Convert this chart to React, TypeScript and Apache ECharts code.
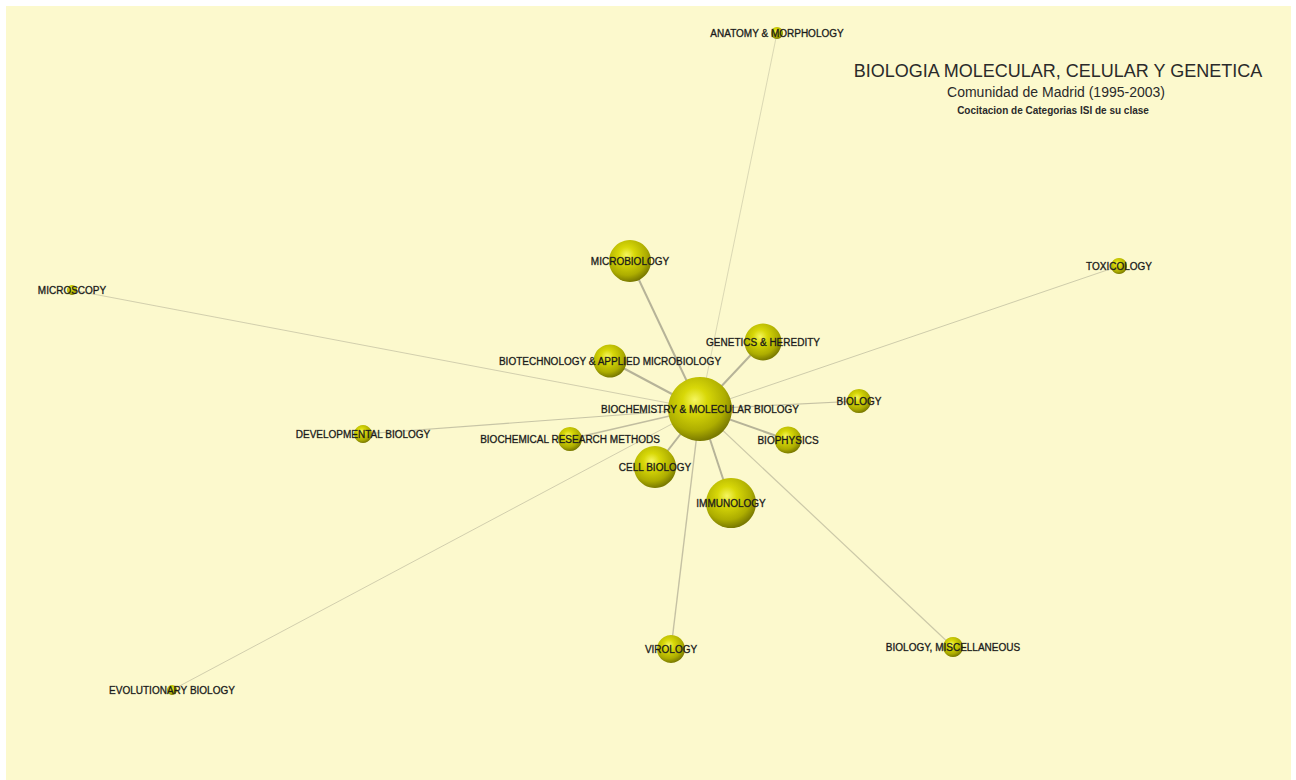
import React, { useEffect, useRef } from "react";
import * as echarts from "echarts";

// Node data (pixel-like coordinates in a 1296 x 780 data space)
const nodeNames = [
  "BIOCHEMISTRY & MOLECULAR BIOLOGY",
  "MICROBIOLOGY",
  "GENETICS & HEREDITY",
  "BIOTECHNOLOGY & APPLIED MICROBIOLOGY",
  "BIOLOGY",
  "BIOPHYSICS",
  "BIOCHEMICAL RESEARCH METHODS",
  "CELL BIOLOGY",
  "IMMUNOLOGY",
  "DEVELOPMENTAL BIOLOGY",
  "MICROSCOPY",
  "TOXICOLOGY",
  "ANATOMY & MORPHOLOGY",
  "VIROLOGY",
  "BIOLOGY, MISCELLANEOUS",
  "EVOLUTIONARY BIOLOGY",
];
const nodeX = [700, 630, 763, 610, 859, 788, 570, 655, 731, 363, 72, 1119, 777, 671, 953, 172];
const nodeY = [409, 261, 342, 361, 401, 440, 439, 467, 503, 434, 290, 266, 33, 649, 647, 690];
const nodeSize = [64, 42, 37, 33, 24, 27, 24, 42, 50, 18, 10, 16, 12, 28, 20, 10];

// Links: all from the central category
const linkTargets = nodeNames.slice(1);
const linkWidth = [2, 2, 2, 1.2, 2, 1.5, 2, 2, 1.2, 1, 1, 0.8, 1.4, 1.2, 1];
const linkOpacity = [1, 1, 1, 0.8, 1, 0.85, 1, 1, 0.75, 0.6, 0.65, 0.6, 0.8, 0.7, 0.6];

const titleLines = [
  "BIOLOGIA MOLECULAR, CELULAR Y GENETICA",
  "Comunidad de Madrid (1995-2003)",
  "Cocitacion de Categorias ISI de su clase",
];

const W = 1296;
const H = 780;

const sphere = new echarts.graphic.RadialGradient(0.42, 0.36, 0.64, [
  { offset: 0, color: "#f6f660" },
  { offset: 0.3, color: "#d8d808" },
  { offset: 0.75, color: "#adad00" },
  { offset: 1, color: "#7a7a00" },
]);

const FONT = "Liberation Sans, Arial, sans-serif";

export default function App() {
  const ref = useRef<HTMLDivElement>(null);

  useEffect(() => {
    if (!ref.current) return;
    const chart = echarts.init(ref.current, undefined, { renderer: "svg" });

    const data = nodeNames.map((n, i) => ({
      name: n,
      value: [nodeX[i], nodeY[i]],
      symbolSize: nodeSize[i],
    }));
    const links = linkTargets.map((t, i) => ({
      source: nodeNames[0],
      target: t,
      lineStyle: { width: linkWidth[i], opacity: linkOpacity[i] },
    }));

    chart.setOption({
      animation: false,
      grid: { left: 0, right: 0, top: 0, bottom: 0 },
      xAxis: { type: "value", min: 0, max: W, show: false },
      yAxis: { type: "value", min: 0, max: H, inverse: true, show: false },
      graphic: [
        {
          type: "text",
          x: 1058,
          y: 71,
          style: {
            text: titleLines[0],
            fontSize: 18,
            fontFamily: FONT,
            fill: "#2a2a2a",
            textAlign: "center",
            textVerticalAlign: "middle",
          },
        },
        {
          type: "text",
          x: 1056,
          y: 92,
          style: {
            text: titleLines[1],
            fontSize: 14,
            fontFamily: FONT,
            fill: "#2a2a2a",
            textAlign: "center",
            textVerticalAlign: "middle",
          },
        },
        {
          type: "text",
          x: 1053,
          y: 110,
          style: {
            text: titleLines[2],
            fontSize: 10,
            fontWeight: "bold",
            fontFamily: FONT,
            fill: "#2a2a2a",
            textAlign: "center",
            textVerticalAlign: "middle",
          },
        },
      ],
      series: [
        {
          type: "graph",
          layout: "none",
          coordinateSystem: "cartesian2d",
          symbol: "circle",
          data,
          links,
          itemStyle: { color: sphere },
          lineStyle: { color: "#b6b398", opacity: 1, curveness: 0 },
          label: {
            show: true,
            position: "inside",
            fontSize: 10,
            fontFamily: FONT,
            color: "#1a1a1a",
            textBorderColor: "rgba(25,25,25,0.6)",
            textBorderWidth: 0.5,
          },
          emphasis: { disabled: true },
          z: 2,
        },
      ],
    });
    return () => chart.dispose();
  }, []);

  return (
    <div
      style={{
        position: "fixed",
        left: 0,
        top: 0,
        width: W,
        height: H,
        background: "#ffffff",
        overflow: "hidden",
      }}
    >
      <div
        style={{
          position: "absolute",
          left: 0,
          top: 0,
          width: W,
          height: 6,
          overflow: "hidden",
        }}
      >
        <div
          style={{
            position: "absolute",
            left: 20,
            top: -21,
            fontFamily: "Liberation Serif, Times New Roman, serif",
            fontSize: 18,
            lineHeight: "20px",
            whiteSpace: "nowrap",
            color: "#000",
          }}
        >
          de la categoría correspondiente a la Bioquímica y Biología Molecular (Fig. 3).
        </div>
      </div>
      <div
        style={{
          position: "absolute",
          left: 6,
          top: 6,
          width: 1285,
          height: 774,
          background: "#fcf9cd",
        }}
      />
      <div ref={ref} style={{ position: "absolute", left: 0, top: 0, width: W, height: H }} />
    </div>
  );
}
